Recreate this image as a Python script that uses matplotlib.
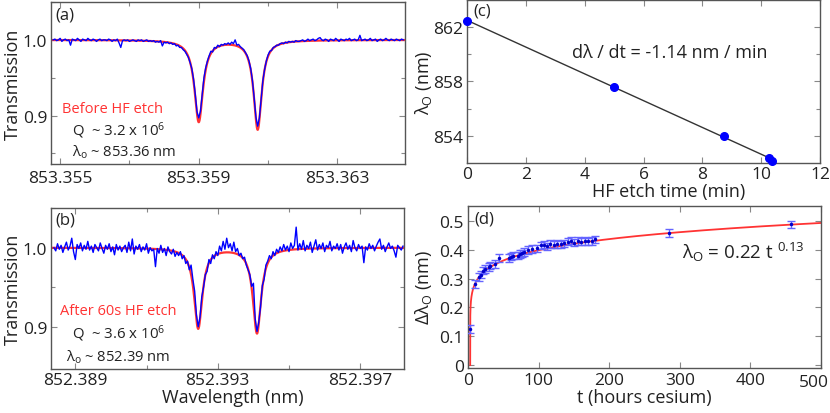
import numpy as np
import matplotlib
matplotlib.use("Agg")
import matplotlib.pyplot as plt
from matplotlib.ticker import FixedLocator, FixedFormatter
from matplotlib.transforms import offset_copy

plt.rcParams['font.family'] = ['Open Sans', 'DejaVu Sans']
plt.rcParams['mathtext.fontset'] = 'custom'
plt.rcParams['mathtext.rm'] = 'Open Sans'
plt.rcParams['mathtext.it'] = 'Open Sans:italic'

# ---------------- data ----------------
# (a) before HF etch: measured trace, sampled every 0.00005 nm from 853.3548 nm
a_start = 853.3548
a_step = 0.00005
a_trans = [
    1.000, 1.001, 0.999, 1.000, 1.002, 0.998, 1.000, 1.001, 0.999, 1.000,
    0.993, 1.001, 1.000, 0.999, 1.002, 1.000, 0.998, 1.001, 1.000, 0.999,
    1.002, 1.000, 0.999, 1.001, 1.000, 0.998, 1.000, 1.001, 0.999, 1.000,
    1.000, 0.999, 1.001, 1.000, 0.998, 1.000, 0.999, 1.001, 0.996, 0.990,
    0.999, 1.000, 0.999, 1.000, 0.998, 0.999, 1.000, 0.999, 0.998, 1.000,
    0.999, 1.000, 0.998, 0.999, 1.000, 0.998, 0.999, 0.998, 0.999, 0.997,
    0.998, 0.997, 0.999, 0.992, 0.997, 0.996, 0.997, 0.995, 0.996, 0.994,
    0.995, 0.992, 0.993, 0.990, 0.990, 0.987, 0.985, 0.981, 0.977, 0.970,
    0.962, 0.948, 0.928, 0.905, 0.897, 0.906, 0.928, 0.950, 0.963, 0.972,
    0.979, 0.985, 0.984, 0.990, 0.989, 0.993, 0.991, 0.994, 0.993, 0.995,
    0.994, 0.996, 0.994, 0.997, 0.995, 1.000, 0.993, 0.994, 0.991, 0.989,
    0.987, 0.983, 0.979, 0.972, 0.962, 0.946, 0.923, 0.898, 0.886, 0.897,
    0.922, 0.946, 0.961, 0.972, 0.980, 0.985, 0.986, 0.990, 0.991, 0.993,
    0.993, 0.995, 0.996, 0.995, 0.997, 0.996, 0.998, 0.997, 0.998, 0.997,
    0.999, 0.998, 0.998, 0.999, 1.000, 0.998, 0.999, 1.001, 0.999, 1.000,
    1.001, 0.999, 1.000, 1.002, 1.003, 1.000, 0.999, 1.001, 1.000, 0.998,
    1.001, 1.000, 0.999, 1.002, 1.000, 0.998, 1.001, 1.000, 0.999, 1.001,
    1.000, 1.002, 0.999, 1.000, 1.001, 0.999, 1.000, 1.006, 0.999, 1.000,
    1.001, 0.999, 1.000, 1.002, 0.999, 1.000, 1.001, 0.998, 1.000, 1.001,
    0.999, 1.000, 1.002, 1.000, 0.999, 1.001, 1.000, 0.999, 1.001, 1.000,
    0.999, 1.001, 1.000,
]
# (a) Lorentzian fit parameters
a_centers = [853.35900, 853.36070]
a_depths = [0.108, 0.118]
a_halfwidths = [0.00015, 0.00014]

# (b) after 60 s HF etch, sampled every 0.00005 nm from 852.3884 nm
b_start = 852.3884
b_step = 0.00005
b_trans = [
    1.000, 0.996, 1.005, 0.998, 1.003, 0.994, 1.001, 1.007, 0.997, 1.002,
    1.012, 0.995, 0.985, 1.004, 0.999, 1.006, 0.996, 1.003, 0.998, 1.008,
    0.997, 1.002, 0.994, 1.004, 1.000, 0.996, 1.006, 0.999, 0.993, 1.003,
    0.998, 1.005, 0.995, 1.001, 0.991, 1.004, 0.997, 1.002, 0.995, 1.000,
    1.003, 0.994, 1.007, 0.996, 1.011, 0.992, 1.002, 0.998, 1.004, 0.995,
    1.001, 0.997, 1.005, 0.993, 1.000, 0.996, 0.998, 0.976, 0.999, 0.993,
    1.003, 0.994, 0.999, 0.990, 1.001, 0.995, 0.992, 0.998, 0.989, 0.994,
    0.990, 0.995, 0.986, 0.990, 0.980, 0.983, 0.972, 0.978, 0.960, 0.945,
    0.915, 0.900, 0.912, 0.938, 0.950, 0.966, 0.970, 0.985, 0.980, 0.991,
    0.986, 0.995, 0.990, 1.002, 0.996, 1.008, 0.998, 1.012, 1.000, 1.005,
    0.996, 1.007, 0.995, 0.999, 0.990, 0.993, 0.986, 0.988, 0.978, 0.972,
    0.966, 0.951, 0.955, 0.910, 0.894, 0.906, 0.925, 0.952, 0.960, 0.978,
    0.983, 0.990, 0.986, 0.995, 0.990, 0.998, 0.994, 1.001, 0.996, 1.004,
    0.997, 1.002, 0.995, 1.006, 0.999, 1.003, 1.026, 0.997, 1.005, 0.998,
    1.009, 0.996, 1.003, 0.999, 1.007, 0.994, 1.002, 1.010, 0.997, 1.004,
    0.999, 1.006, 0.995, 1.003, 1.000, 1.008, 0.996, 1.002, 0.999, 1.005,
    0.997, 1.004, 0.993, 1.001, 1.006, 0.998, 1.003, 0.995, 1.009, 1.000,
    0.996, 1.004, 0.999, 1.002, 0.981, 1.001, 0.997, 1.005, 0.999, 1.003,
    0.996, 1.002, 1.007, 1.011, 0.998, 1.003, 0.995, 1.001, 1.006, 0.999,
    1.002, 0.996, 0.988, 1.003, 1.000, 0.997, 1.002,
]
b_centers = [852.39245, 852.39410]
b_depths = [0.102, 0.108]
b_halfwidths = [0.00014, 0.00014]

a_xticks = [853.355, 853.359, 853.363]
a_xticklabels = ['853.355', '853.359', '853.363']
b_xticks = [852.389, 852.393, 852.397]
b_xticklabels = ['852.389', '852.393', '852.397']
trans_yticks = [0.9, 1.0]
trans_yticklabels = ['0.9', '1.0']

# (c) resonance wavelength vs HF etch time
etch_time = [0.0, 5.0, 8.75, 10.27, 10.36]
lambda0 = [862.45, 857.63, 853.97, 852.40, 852.16]
c_xticks = [0, 2, 4, 6, 8, 10, 12]
c_yticks = [854, 858, 862]

# (d) shift vs cesium exposure time
t_hours = [2.8, 9, 14.7, 18, 21, 23, 29, 31, 38, 44, 58, 61, 64, 70, 73, 76,
           79, 84, 90, 97, 103, 107, 111, 116, 121, 126, 131, 136, 141, 145,
           150, 155, 160, 165, 170, 175, 180, 285, 457]
dlambda = [0.125, 0.282, 0.305, 0.314, 0.328, 0.334, 0.340, 0.345, 0.351,
           0.371, 0.372, 0.376, 0.380, 0.380, 0.385, 0.388, 0.392, 0.400,
           0.402, 0.405, 0.415, 0.418, 0.412, 0.420, 0.418, 0.421, 0.419,
           0.422, 0.428, 0.432, 0.425, 0.430, 0.428, 0.431, 0.429, 0.430,
           0.436, 0.459, 0.4885]
dlambda_err = [0.015] + [0.013] * 38
fit_amp = 0.22
fit_exp = 0.13
fit_t0 = 2.7
d_xticks = [0, 100, 200, 300, 400, 500]
d_xticklabels = ['0', '100', '200', '300', '400', '500']
d_yticks = [0, 0.1, 0.2, 0.3, 0.4, 0.5]
d_yticklabels = ['0', '0.1', '0.2', '0.3', '0.4', '0.5']

# ---------------- styling helpers ----------------
FRAME = '#555555'
TICKC = '#888888'
TXT = '#222222'
BLUE = '#0000ff'
RED = '#ff3333'
TICKSIZE = 12.5
LABELSIZE = 13


def style(ax, xpad):
    for s in ax.spines.values():
        s.set_color(FRAME)
        s.set_linewidth(1.0)
    ax.tick_params(which='both', direction='in', top=True, right=True,
                   color=TICKC, labelcolor=TXT, labelsize=TICKSIZE, length=4,
                   width=0.8)
    ax.tick_params(axis='y', which='both', pad=3)
    ax.tick_params(axis='x', which='both', pad=xpad)
    ax.tick_params(which='minor', length=3)


def set_ylab(ax, text, xpos):
    ax.set_ylabel(text, fontsize=LABELSIZE, color=TXT)
    ax.yaxis.set_label_coords(xpos, 0.5)


def set_xlab(ax, text, xpos, ypos):
    ax.set_xlabel(text, fontsize=LABELSIZE, color=TXT)
    ax.xaxis.label.set_verticalalignment('baseline')
    ax.xaxis.set_label_coords(xpos, ypos)


def lorentz(x, centers, depths, hws):
    y = np.ones_like(x)
    for c, d, h in zip(centers, depths, hws):
        y = y - d * h**2 / ((x - c)**2 + h**2)
    return y


fig = plt.figure(figsize=(8.3, 4.14), dpi=100)

ax_a = fig.add_axes([0.0620, 0.6014, 0.4259, 0.3913])
ax_b = fig.add_axes([0.0620, 0.1063, 0.4253, 0.3896])
ax_c = fig.add_axes([0.5630, 0.6039, 0.4249, 0.3937])
ax_d = fig.add_axes([0.5642, 0.1087, 0.4249, 0.3913])

# ---- (a) ----
xa = a_start + a_step * np.arange(len(a_trans))
xa_fit = np.linspace(853.35475, 853.36495, 1500)
ax_a.plot(xa_fit, lorentz(xa_fit, a_centers, a_depths, a_halfwidths),
          color=RED, lw=1.6)
ax_a.plot(xa, a_trans, color=BLUE, lw=1.0)
ax_a.set_xlim(853.35475, 853.36495)
ax_a.set_ylim(0.836, 1.050)
ax_a.xaxis.set_major_locator(FixedLocator(a_xticks))
ax_a.xaxis.set_major_formatter(FixedFormatter(a_xticklabels))
ax_a.xaxis.set_minor_locator(FixedLocator([853.357, 853.361]))
ax_a.yaxis.set_major_locator(FixedLocator(trans_yticks))
ax_a.yaxis.set_major_formatter(FixedFormatter(trans_yticklabels))
ax_a.yaxis.set_minor_locator(FixedLocator([0.85, 0.95, 1.05]))
style(ax_a, 4.5)
set_ylab(ax_a, 'Transmission', -0.085)
ax_a.text(0.012, 0.975, '(a)', transform=ax_a.transAxes, fontsize=12,
          color=TXT, va='top', ha='left')
ax_a.text(0.03, 0.345, 'Before HF etch', transform=ax_a.transAxes,
          fontsize=10.5, color=RED, va='center', ha='left')
ax_a.text(0.058, 0.21, 'Q  ~ 3.2 x 10$^{6}$', transform=ax_a.transAxes,
          fontsize=10.8, color=TXT, va='center', ha='left')
ax_a.text(0.058, 0.08, 'λ$_\\mathrm{o}$ ~ 853.36 nm', transform=ax_a.transAxes,
          fontsize=10.6, color=TXT, va='center', ha='left')

# ---- (b) ----
xb = b_start + b_step * np.arange(len(b_trans))
xb_fit = np.linspace(852.38833, 852.39824, 1500)
ax_b.plot(xb_fit, lorentz(xb_fit, b_centers, b_depths, b_halfwidths),
          color=RED, lw=1.6)
ax_b.plot(xb, b_trans, color=BLUE, lw=1.0)
ax_b.set_xlim(852.38833, 852.39824)
ax_b.set_ylim(0.8465, 1.0506)
ax_b.xaxis.set_major_locator(FixedLocator(b_xticks))
ax_b.xaxis.set_major_formatter(FixedFormatter(b_xticklabels))
ax_b.xaxis.set_minor_locator(FixedLocator([852.391, 852.395]))
ax_b.yaxis.set_major_locator(FixedLocator(trans_yticks))
ax_b.yaxis.set_major_formatter(FixedFormatter(trans_yticklabels))
ax_b.yaxis.set_minor_locator(FixedLocator([0.95, 1.05]))
style(ax_b, 2.0)
set_ylab(ax_b, 'Transmission', -0.085)
set_xlab(ax_b, 'Wavelength (nm)', 0.514, -0.205)
ax_b.text(0.012, 0.975, '(b)', transform=ax_b.transAxes, fontsize=12,
          color=TXT, va='top', ha='left')
ax_b.text(0.025, 0.36, 'After 60s HF etch', transform=ax_b.transAxes,
          fontsize=10.5, color=RED, va='center', ha='left')
ax_b.text(0.058, 0.225, 'Q  ~ 3.6 x 10$^{6}$', transform=ax_b.transAxes,
          fontsize=10.8, color=TXT, va='center', ha='left')
ax_b.text(0.04, 0.08, 'λ$_\\mathrm{o}$ ~ 852.39 nm', transform=ax_b.transAxes,
          fontsize=10.6, color=TXT, va='center', ha='left')

# ---- (c) ----
coef = np.polyfit(etch_time, lambda0, 1)
xl = np.array([0.0, 10.45])
ax_c.plot(xl, np.polyval(coef, xl), color='#333333', lw=1.0, zorder=2)
ax_c.plot(etch_time, lambda0, 'o', color=BLUE, ms=5.5, zorder=3,
          clip_on=False)
ax_c.set_xlim(0, 12)
ax_c.set_ylim(852, 864)
ax_c.xaxis.set_major_locator(FixedLocator(c_xticks))
ax_c.yaxis.set_major_locator(FixedLocator(c_yticks))
ax_c.yaxis.set_minor_locator(FixedLocator([856, 860]))
style(ax_c, 2.5)
set_xlab(ax_c, 'HF etch time (min)', 0.57, -0.2025)
set_ylab(ax_c, 'λ$_\\mathrm{O}$ (nm)', -0.095)
ax_c.text(0.017, 0.985, '(c)', transform=ax_c.transAxes, fontsize=12,
          color=TXT, va='top', ha='left')
ax_c.text(3.55, 860.2, 'dλ / dt = -1.14 nm / min', fontsize=13,
          color=TXT, va='center', ha='left')

# ---- (d) ----
tf = fit_t0 + np.concatenate([[0.0], np.logspace(-7, np.log10(500 - fit_t0), 600)])
ax_d.plot(tf, fit_amp * (tf - fit_t0) ** fit_exp, color=RED, lw=1.3, zorder=2)
ax_d.errorbar(t_hours, dlambda, yerr=dlambda_err, fmt='.', color='#0000cc',
              ms=3, ecolor='#6464ff', elinewidth=1.0, capsize=3, capthick=1.0,
              zorder=3)
ax_d.set_xlim(0, 500)
ax_d.set_ylim(-0.01, 0.552)
ax_d.xaxis.set_major_locator(FixedLocator(d_xticks))
ax_d.xaxis.set_major_formatter(FixedFormatter(d_xticklabels[:-1] + ['']))
ax_d.yaxis.set_major_locator(FixedLocator(d_yticks))
ax_d.yaxis.set_major_formatter(FixedFormatter(d_yticklabels))
style(ax_d, 3.0)
# last x tick label sits flush with the right edge, as in the reference
ax_d.text(1.0, -0.01, d_xticklabels[-1], fontsize=TICKSIZE, color=TXT,
          ha='right', va='top',
          transform=offset_copy(ax_d.transAxes, fig=fig, x=5.5, y=-3,
                                units='points'))
set_xlab(ax_d, 't (hours cesium)', 0.50, -0.21)
set_ylab(ax_d, 'Δλ$_\\mathrm{O}$ (nm)', -0.097)
ax_d.text(0.017, 0.975, '(d)', transform=ax_d.transAxes, fontsize=12,
          color=TXT, va='top', ha='left')
ax_d.text(303, 0.396, 'λ$_\\mathrm{O}$ = 0.22 t $^{0.13}$', fontsize=13.5,
          color=TXT, va='center', ha='left')

fig.savefig('out.png', dpi=100)
